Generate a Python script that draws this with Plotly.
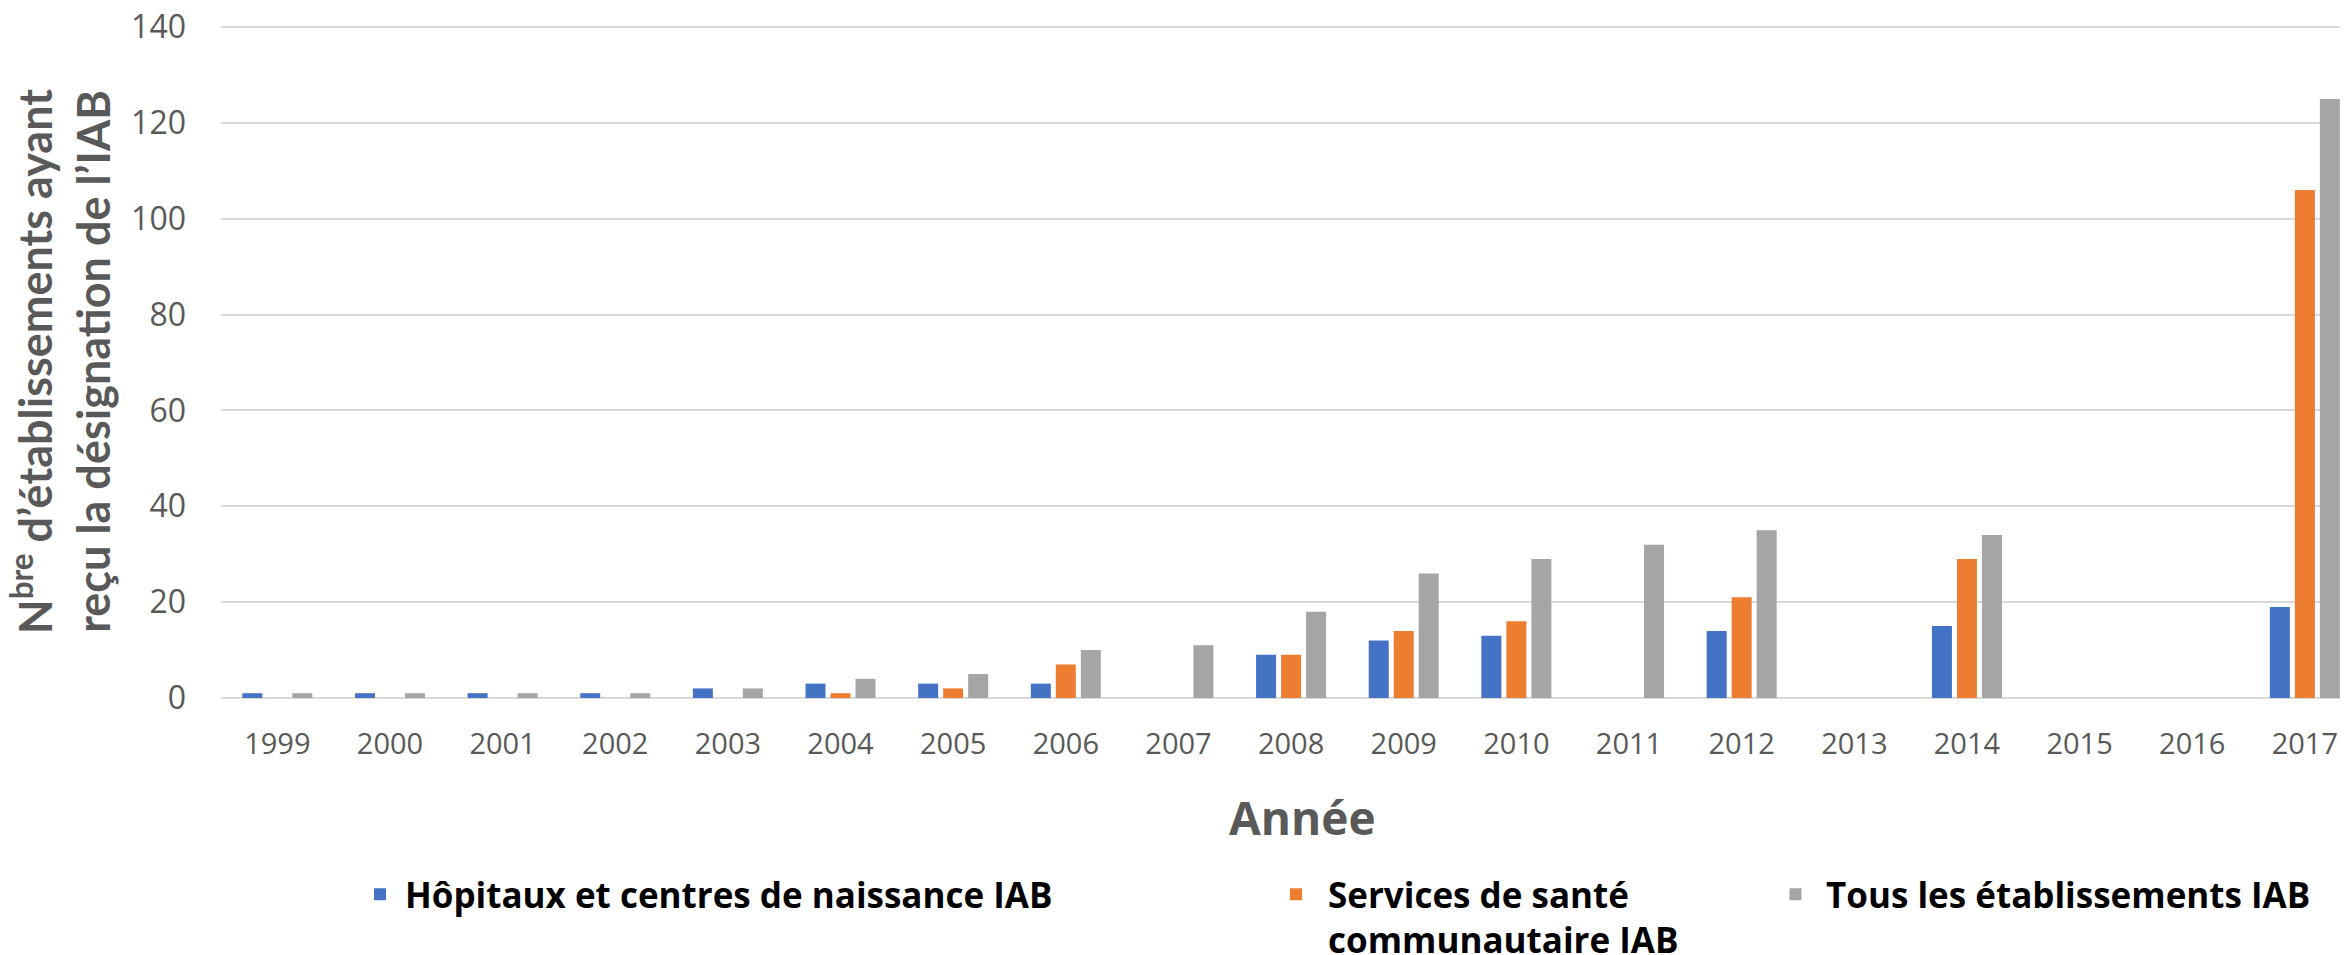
import plotly.graph_objects as go

years = ["1999", "2000", "2001", "2002", "2003", "2004", "2005", "2006", "2007", "2008",
         "2009", "2010", "2011", "2012", "2013", "2014", "2015", "2016", "2017"]
hopitaux = [1, 1, 1, 1, 2, 3, 3, 3, None, 9, 12, 13, None, 14, None, 15, None, None, 19]
services = [None, None, None, None, None, 1, 2, 7, None, 9, 14, 16, None, 21, None, 29, None, None, 106]
tous = [1, 1, 1, 1, 2, 4, 5, 10, 11, 18, 26, 29, 32, 35, None, 34, None, None, 125]

names = ["Hôpitaux et centres de naissance IAB",
         "Services de santé<br>communautaire IAB",
         "Tous les établissements IAB"]
colors = ["#4472C4", "#ED7D31", "#A5A5A5"]
y_ticks = [0, 20, 40, 60, 80, 100, 120, 140]
y_max = 140.42

# the page body has an 8px margin: the figure is sized and placed to compensate
OFF = 8
W, H = 2340, 947
ML, MT, MB, MR = 213, 17, 257, 0
PW = W - ML - MR
PH = H - MT - MB

def px_x(sx):
    return (sx - OFF - ML) / PW

def px_y(sy):
    return (H - MB - (sy - OFF)) / PH

def cx(sx):
    return (sx - OFF) / W

def cy(sy):
    return 1 - (sy - OFF) / H

fig = go.Figure()
series = [hopitaux, services, tous]
legends = ["legend", "legend2", "legend3"]
for s, n, c, lg in zip(series, names, colors, legends):
    fig.add_trace(go.Bar(x=years, y=s, name=n, marker=dict(color=c, line=dict(width=0)),
                         legend=lg))

legend_font = dict(family="Open Sans", size=35, color="#000000", weight=700)
leg_common = dict(orientation="v", font=legend_font, bgcolor="rgba(0,0,0,0)",
                  yanchor="top", xanchor="left", valign="top", itemclick=False,
                  xref="container", yref="container")
leg_top = cy(865)

fig.update_layout(
    width=W, height=H,
    margin=dict(l=ML, r=MR, t=MT, b=MB, autoexpand=False),
    paper_bgcolor="white", plot_bgcolor="white",
    barmode="group", bargap=0.334, bargroupgap=0.2,
    showlegend=True,
    legend=dict(x=cx(355), y=leg_top, itemwidth=40, **leg_common),
    legend2=dict(x=cx(1264), y=leg_top, itemwidth=54, **leg_common),
    legend3=dict(x=cx(1765), y=leg_top, itemwidth=51, **leg_common),
    xaxis=dict(type="category", range=[-0.5, 18.383], showgrid=False, showline=False,
               ticks="", tickfont=dict(family="Open Sans", size=29, color="#595959"),
               ticklabelstandoff=26, fixedrange=True, automargin=False),
    yaxis=dict(range=[0, y_max], tickvals=y_ticks, showgrid=True, gridcolor="#D9D9D9",
               gridwidth=2, zeroline=True, zerolinecolor="#D9D9D9", zerolinewidth=2,
               showline=False, ticks="", ticklabeloverflow="allow",
               tickfont=dict(family="Open Sans", size=32, color="#595959"),
               ticklabelstandoff=34, fixedrange=True, automargin=False),
    annotations=[
        dict(text="N<sup>bre</sup> d’établissements ayant<br>reçu la désignation de l’IAB",
             textangle=-90, xref="paper", yref="paper", x=px_x(61), y=px_y(362),
             xanchor="center", yanchor="middle", showarrow=False,
             font=dict(family="Lato", size=45, color="#595959", weight=700)),
        dict(text="Année", xref="paper", yref="paper", x=px_x(1302), y=px_y(817),
             xanchor="center", yanchor="middle", showarrow=False,
             font=dict(family="Open Sans", size=46, color="#595959", weight=700)),
    ],
)

fig.write_html("out.html")
